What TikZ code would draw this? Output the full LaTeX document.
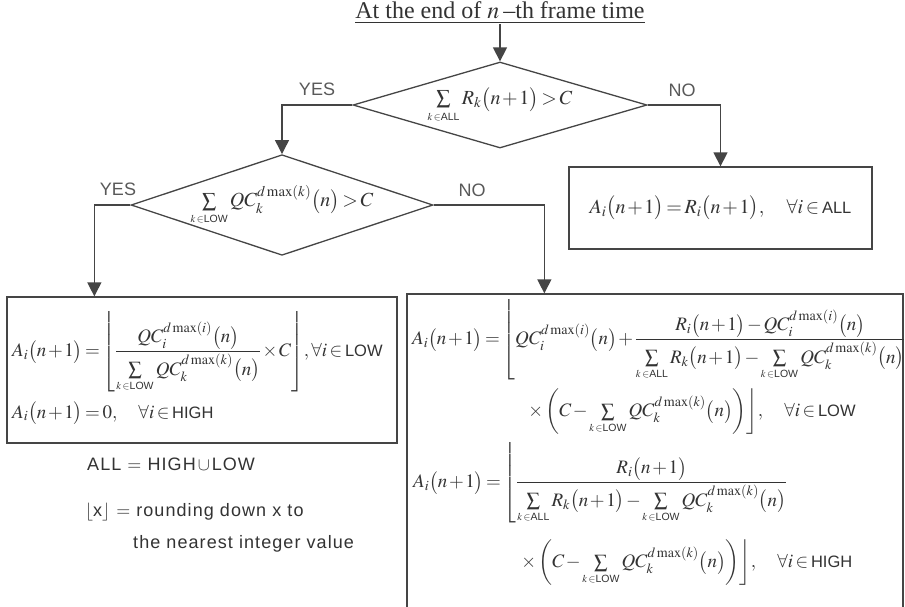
\documentclass[tikz,border=0pt]{standalone}
\usepackage{amsmath}
\usepackage{mathptmx}
\usepackage{fontspec}
\setmainfont{Liberation Serif}
\setsansfont{Liberation Sans}
\newfontfamily\notefont[LetterSpace=6]{Liberation Sans}
\usetikzlibrary{shapes.geometric,arrows.meta,calc}
\definecolor{ink}{gray}{0.2}
\definecolor{linec}{gray}{0.27}
\definecolor{labc}{gray}{0.35}
\newcommand{\tsum}{\mathop{\textstyle\sum}\limits}
\newcommand{\sfm}[1]{\mbox{\fontsize{16.5}{19}\sffamily #1}}
\newcommand{\sub}[1]{\mbox{\fontsize{10.5}{12}\selectfont$k\in$\sffamily #1}}
\newcommand{\pp}[1]{\bigl(#1\bigr)}
\begin{document}
\thickmuskip=2.5mu plus 1mu
\medmuskip=1.5mu plus 1mu
\delimitershortfall=12pt
\begin{tikzpicture}[x=1pt,y=-1pt,
  line/.style={draw=linec, line width=1.3pt},
  arr/.style={line, -{Triangle[width=14pt,length=14pt]}},
  dec/.style={diamond, draw=linec, line width=1.3pt, aspect=3, inner sep=0pt, text=ink, font=\fontsize{20}{24}\selectfont},
  boxn/.style={draw=linec, line width=1.3pt, rectangle, inner sep=0pt, text=ink, font=\fontsize{20}{24}\selectfont},
  lab/.style={font=\fontsize{18}{20}\sffamily, text=labc, inner sep=0pt},
  eq/.style={inner sep=0pt, text=ink, font=\fontsize{19}{23}\selectfont},
  note/.style={inner sep=0pt, text=ink, font=\fontsize{18}{20}\notefont, anchor=base west}]
\useasboundingbox (0,0) rectangle (905,606);
\fill[white] (0,0) rectangle (905,606);

\node[inner sep=0pt, text=ink, font=\fontsize{24}{27}\selectfont] (title) at (500,13) {\underline{At the end of $n$\,–th frame time}};

\node[dec, minimum width=294pt, minimum height=86pt] (d1) at (500,105) {$\tsum_{\sub{ALL}} R_k\pp{n+1} > C$};
\node[dec, minimum width=296pt, minimum height=100pt] (d2) at (282,205) {$\tsum_{\sub{LOW}} QC_k^{d\max(k)}\pp{n} > C$};

\node[boxn, minimum width=303pt, minimum height=82pt] (ball) at (720.5,208) {$A_i\pp{n+1} = R_i\pp{n+1},\quad \forall i\in\sfm{ALL}$};

\node[boxn, minimum width=390pt, minimum height=146pt] (lbox) at (202,370) {};
\node[boxn, minimum width=496pt, minimum height=320pt] (rbox) at (655,454) {};

\node[lab] (yes1) at (317,89) {YES};
\node[lab] (no1) at (682,90) {NO};
\node[lab] (yes2) at (118,189) {YES};
\node[lab] (no2) at (472,190) {NO};

\node[eq, anchor=west] (l1) at (12,352) {$A_i\pp{n+1} = \left\lfloor \dfrac{QC_i^{d\max(i)}\pp{n}}{\tsum_{\sub{LOW}} QC_k^{d\max(k)}\pp{n}} \times C \right\rfloor\!, \forall i \in \sfm{LOW}$};
\node[eq, anchor=base west] (l2) at (12,418) {$A_i\pp{n+1} = 0,\quad \forall i \in \sfm{HIGH}$};

\node[eq, anchor=west] (r1) at (412,340) {$A_i\pp{n+1} = \left\lfloor QC_i^{d\max(i)}\pp{n} + \dfrac{R_i\pp{n+1} - QC_i^{d\max(i)}\pp{n}}{\tsum_{\sub{ALL}} R_k\pp{n+1} - \tsum_{\sub{LOW}} QC_k^{d\max(k)}\pp{n}}\right.$};
\node[eq, anchor=west] (r2) at (527,412) {$\left.\times\left(C - \tsum_{\sub{LOW}} QC_k^{d\max(k)}\pp{n}\right)\right\rfloor\!,\quad \forall i\in\sfm{LOW}$};
\node[eq, anchor=west] (r3) at (413,483) {$A_i\pp{n+1} = \left\lfloor \dfrac{R_i\pp{n+1}}{\tsum_{\sub{ALL}} R_k\pp{n+1} - \tsum_{\sub{LOW}} QC_k^{d\max(k)}\pp{n}}\right.$};
\node[eq, anchor=west] (r4) at (520,563) {$\left.\times\left(C - \tsum_{\sub{LOW}} QC_k^{d\max(k)}\pp{n}\right)\right\rfloor\!,\quad \forall i\in\sfm{HIGH}$};

\node[note] (n1) at (87,470) {ALL $=$ HIGH$\,\cup\,$LOW};
\node[note] (n2) at (85,516) {$\lfloor$x$\rfloor$ $=$ rounding down x to};
\node[note] (n3) at (133,548) {the nearest integer value};

\draw[arr] (title.south) -- (d1.north);
\draw[arr] (d1.west) -| (d2.north);
\draw[arr] (d1.east) -| (ball.north);
\draw[arr] (d2.west) -| ($(lbox.north west)+(88,0)$);
\draw[arr] (d2.east) -| ($(rbox.north west)+(138,0)$);
\end{tikzpicture}
\end{document}
